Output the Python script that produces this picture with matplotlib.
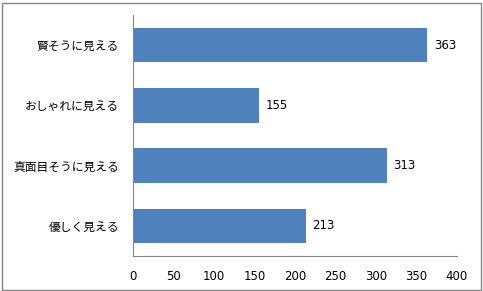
import matplotlib
matplotlib.use("Agg")
import matplotlib.pyplot as plt
from matplotlib.patches import Rectangle

plt.rcParams['font.family'] = ['Noto Sans CJK JP', 'DejaVu Sans']

categories = ["賢そうに見える", "おしゃれに見える", "真面目そうに見える", "優しく見える"]
values = [363, 155, 313, 213]
xticks = [0, 50, 100, 150, 200, 250, 300, 350, 400]

W, H = 483, 291
fig = plt.figure(figsize=(W / 100, H / 100), dpi=100)
ax = fig.add_axes([133 / W, 1 - 256 / H, (457 - 133) / W, (256 - 15) / H])

ypos = list(range(len(categories)))
ax.barh(ypos, values, height=0.57, color="#4F81BD")
ax.set_ylim(len(categories) - 0.5, -0.5)
ax.set_xlim(0, 400)
ax.set_xticks(xticks)
ax.set_xticklabels([str(t) for t in xticks], fontsize=8.5,
                   family=['DejaVu Sans'])
ax.set_yticks(ypos)
ax.set_yticklabels(categories, fontsize=8.5)
ax.tick_params(axis='both', length=0)
ax.tick_params(axis='y', pad=10)
ax.tick_params(axis='x', pad=10)
for s in ['top', 'right']:
    ax.spines[s].set_visible(False)
for s in ['left', 'bottom']:
    ax.spines[s].set_color('#868686')
    ax.spines[s].set_linewidth(0.8)

for y, v in zip(ypos, values):
    ax.annotate(str(v), xy=(v, y), xytext=(7, 0), textcoords='offset pixels',
                va='center', ha='left', fontsize=8.5, family=['DejaVu Sans'])

fig.patches.append(Rectangle((1.5 / W, 1.5 / H), (W - 4) / W, (H - 4) / H,
                             transform=fig.transFigure, fill=False,
                             edgecolor='#868686', linewidth=1.0))

fig.savefig("out.png", dpi=100)
